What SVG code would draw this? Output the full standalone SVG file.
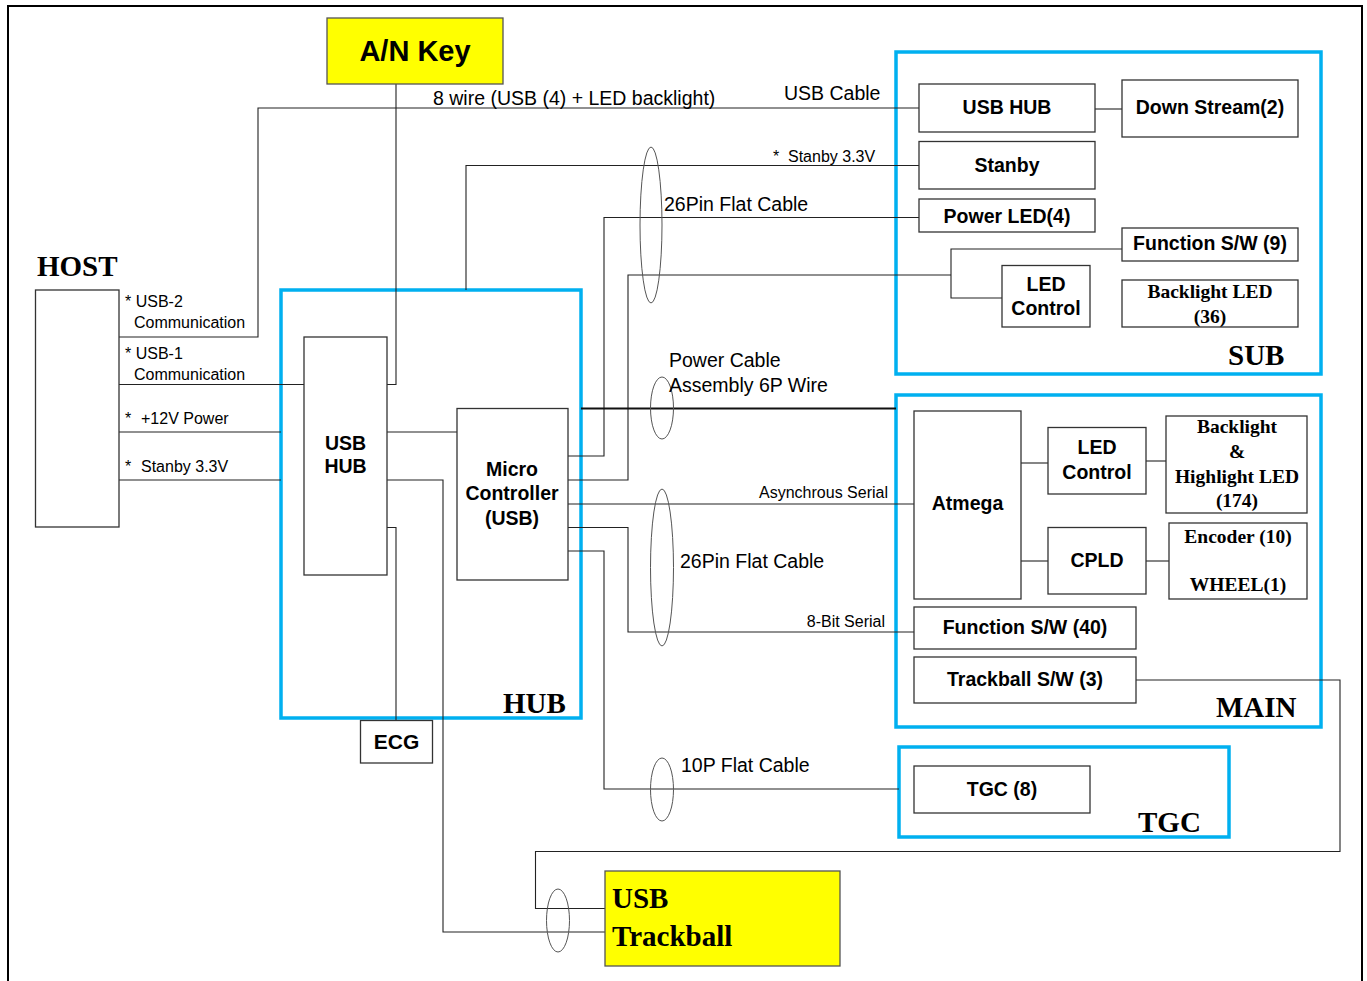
<svg xmlns="http://www.w3.org/2000/svg" width="1367" height="981" viewBox="0 0 1367 981">
<style>
.frame{fill:none;stroke:#000;stroke-width:2}
.grp{fill:none;stroke:#00B0F0;stroke-width:3.5}
.box{fill:#fff;stroke:#333;stroke-width:1.3}
.ybox{fill:#FFFF00;stroke:#555;stroke-width:1.3}
.ln{fill:none;stroke:#222;stroke-width:1.1}
.thick{fill:none;stroke:#111;stroke-width:2}
.ell{fill:none;stroke:#555;stroke-width:1}
.nt{font-family:"Liberation Sans",Arial,sans-serif;font-weight:bold;font-size:19.5px;fill:#000;text-anchor:middle}
.st{font-family:"Liberation Serif","Times New Roman",serif;font-weight:bold;font-size:19.5px;fill:#000;text-anchor:middle}
.gl{font-family:"Liberation Serif","Times New Roman",serif;font-weight:bold;font-size:29px;fill:#000}
.cl{font-family:"Liberation Sans",Arial,sans-serif;font-size:19.5px;fill:#000}
.sm{font-family:"Liberation Sans",Arial,sans-serif;font-size:16px;fill:#000}
</style>
<rect width="1367" height="981" fill="#fff"/>
<path class="frame" d="M8,981 V6 H1362 V981"/>

<g id="groups">
<rect class="grp" x="281" y="290" width="300" height="428"/>
<rect class="grp" x="896" y="52" width="425" height="322"/>
<rect class="grp" x="896" y="395" width="425" height="332"/>
<rect class="grp" x="899" y="747" width="330" height="90"/>
<text class="gl" x="503" y="713">HUB</text>
<text class="gl" x="1228" y="365">SUB</text>
<text class="gl" x="1216" y="717">MAIN</text>
<text class="gl" x="1138" y="832">TGC</text>
<text class="gl" x="37" y="276">HOST</text>
</g>

<g id="connectors">
<path class="ln" d="M119,337 H258 V108 H919"/>
<path class="ln" d="M119,384.5 H304"/>
<path class="ln" d="M119,432 H281"/>
<path class="ln" d="M119,480 H281"/>
<path class="ln" d="M396,84 V384.5 H387"/>
<path class="ln" d="M387,432 H457"/>
<path class="ln" d="M387,480 H443 V932 H605"/>
<path class="ln" d="M387,527.5 H396 V720"/>
<path class="ln" d="M466,290 V165.5 H919"/>
<path class="ln" d="M568,456 H604 V217.5 H919"/>
<path class="ln" d="M568,480 H628 V275 H951"/>
<path class="ln" d="M1122,249 H951 V298 H1002"/>
<path class="thick" d="M581,408.5 H896"/>
<path class="ln" d="M568,504 H914"/>
<path class="ln" d="M568,527.5 H628 V632 H914"/>
<path class="ln" d="M568,551 H604 V789 H899"/>
<path class="ln" d="M1136,680 H1340 V851.5 H535.5 V908.5 H605"/>
<path class="ln" d="M1095,109 H1122"/>
<path class="ln" d="M1021,463 H1048"/>
<path class="ln" d="M1146,461 H1166"/>
<path class="ln" d="M1021,561 H1048"/>
<path class="ln" d="M1146,561 H1169"/>
<ellipse class="ell" cx="651" cy="225" rx="11" ry="78"/>
<ellipse class="ell" cx="662" cy="408" rx="11.5" ry="31"/>
<ellipse class="ell" cx="662" cy="567.5" rx="11.5" ry="78.5"/>
<ellipse class="ell" cx="662" cy="789.5" rx="11.5" ry="31.5"/>
<ellipse class="ell" cx="558" cy="920.5" rx="11.5" ry="31.5"/>
<text class="cl" x="433" y="105">8 wire (USB (4) + LED backlight)</text>
<text class="cl" x="784" y="100">USB Cable</text>
<text class="sm" x="773" y="162">*<tspan x="788">Stanby 3.3V</tspan></text>
<text class="cl" x="664" y="211">26Pin Flat Cable</text>
<text class="cl" x="669" y="367">Power Cable</text>
<text class="cl" x="669" y="392">Assembly 6P Wire</text>
<text class="sm" x="888" y="498" text-anchor="end">Asynchrous Serial</text>
<text class="cl" x="680" y="568">26Pin Flat Cable</text>
<text class="sm" x="885" y="627" text-anchor="end">8-Bit Serial</text>
<text class="cl" x="681" y="772">10P Flat Cable</text>
<text class="sm" x="125" y="307">* USB-2</text>
<text class="sm" x="134" y="328">Communication</text>
<text class="sm" x="125" y="359">* USB-1</text>
<text class="sm" x="134" y="380">Communication</text>
<text class="sm" x="125" y="424">*<tspan x="141">+12V Power</tspan></text>
<text class="sm" x="125" y="472">*<tspan x="141">Stanby 3.3V</tspan></text>
</g>

<g id="an-key"><rect class="ybox" x="327" y="18" width="176" height="66"/><text class="nt" x="415" y="61" style="font-size:29px">A/N Key</text></g>
<g id="host"><rect class="box" x="35.5" y="290" width="83.5" height="237"/></g>
<g id="hub-usbhub"><rect class="box" x="304" y="337" width="83" height="238"/><text class="nt" x="345.5" y="450">USB</text><text class="nt" x="345.5" y="473">HUB</text></g>
<g id="micro"><rect class="box" x="457" y="408.5" width="111" height="171.5"/><text class="nt" x="512" y="476">Micro</text><text class="nt" x="512" y="500">Controller</text><text class="nt" x="512" y="525">(USB)</text></g>
<g id="ecg"><rect class="box" x="360.5" y="720.5" width="72" height="42.5"/><text class="nt" x="396.5" y="749" style="font-size:21px">ECG</text></g>

<g id="sub-usbhub"><rect class="box" x="919" y="84" width="176" height="48"/><text class="nt" x="1007" y="114">USB HUB</text></g>
<g id="downstream"><rect class="box" x="1122" y="80" width="176" height="57"/><text class="nt" x="1210" y="114">Down Stream(2)</text></g>
<g id="stanby"><rect class="box" x="919" y="141.5" width="176" height="47.5"/><text class="nt" x="1007" y="172">Stanby</text></g>
<g id="powerled"><rect class="box" x="919" y="199" width="176" height="33"/><text class="nt" x="1007" y="222.5">Power LED(4)</text></g>
<g id="funcsw9"><rect class="box" x="1122" y="228" width="176" height="33"/><text class="nt" x="1210" y="250">Function S/W (9)</text></g>
<g id="sub-ledctrl"><rect class="box" x="1002" y="265.5" width="88" height="61.5"/><text class="nt" x="1046" y="290.5">LED</text><text class="nt" x="1046" y="315">Control</text></g>
<g id="backlight36"><rect class="box" x="1122" y="280" width="176" height="47"/><text class="st" x="1210" y="298">Backlight LED</text><text class="st" x="1210" y="322.5">(36)</text></g>

<g id="atmega"><rect class="box" x="914" y="411" width="107" height="188"/><text class="nt" x="967.5" y="510">Atmega</text></g>
<g id="main-ledctrl"><rect class="box" x="1048" y="427.5" width="98" height="66.5"/><text class="nt" x="1097" y="454">LED</text><text class="nt" x="1097" y="478.5">Control</text></g>
<g id="backlight174"><rect class="box" x="1166" y="416" width="141" height="97"/><text class="st" x="1237" y="433">Backlight</text><text class="st" x="1237" y="458">&amp;</text><text class="st" x="1237" y="482.5">Highlight LED</text><text class="st" x="1237" y="506.5">(174)</text></g>
<g id="cpld"><rect class="box" x="1048" y="527.5" width="98" height="66.5"/><text class="nt" x="1097" y="567">CPLD</text></g>
<g id="encoder"><rect class="box" x="1169" y="523" width="138" height="76"/><text class="st" x="1238" y="542.5">Encoder (10)</text><text class="st" x="1238" y="590.5">WHEEL(1)</text></g>
<g id="funcsw40"><rect class="box" x="914" y="607" width="222" height="42"/><text class="nt" x="1025" y="634">Function S/W (40)</text></g>
<g id="trackballsw"><rect class="box" x="914" y="657" width="222" height="46"/><text class="nt" x="1025" y="686">Trackball S/W (3)</text></g>

<g id="tgc8"><rect class="box" x="914" y="766" width="176" height="47"/><text class="nt" x="1002" y="796">TGC (8)</text></g>
<g id="usbtrackball"><rect class="ybox" x="605" y="871" width="235" height="95"/><text class="gl" x="612" y="908">USB</text><text class="gl" x="612" y="946">Trackball</text></g>
</svg>
